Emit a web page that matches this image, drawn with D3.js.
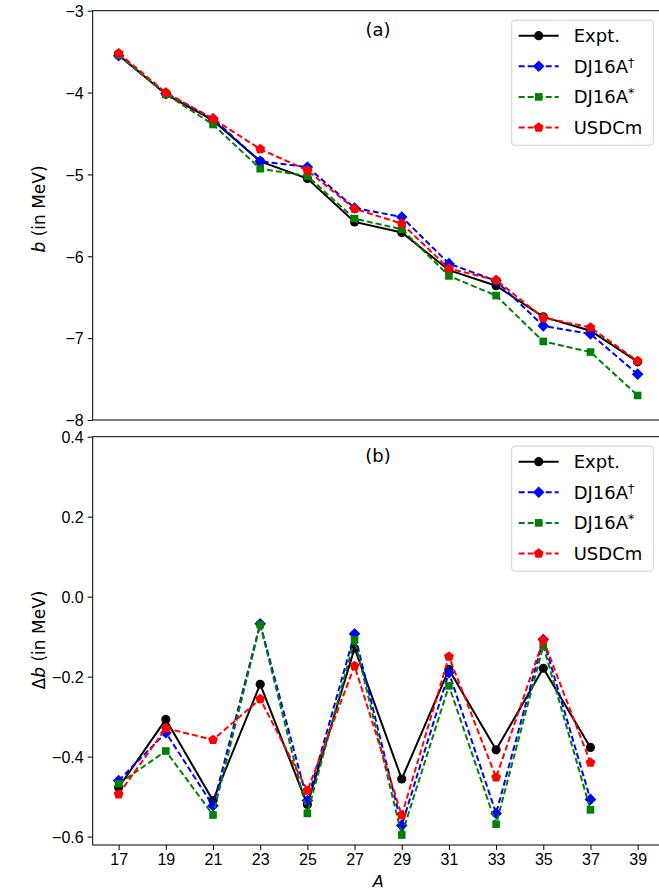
<!DOCTYPE html>
<html>
<head>
<meta charset="utf-8">
<script src="https://cdn.jsdelivr.net/npm/d3@7"></script>
<style>
  body { margin: 0; background: #fff; }
  svg { font-family: "DejaVu Sans", sans-serif; }
  .tick text { font-size: 16px; fill: #000; }
</style>
</head>
<body>
<svg id="chart"></svg>
<script>
const width = 659;
const height = 890;

// mass numbers
const massA = [17, 19, 21, 23, 25, 27, 29, 31, 33, 35, 37, 39];
const massB = [17, 19, 21, 23, 25, 27, 29, 31, 33, 35, 37];
const xTicks = [17, 19, 21, 23, 25, 27, 29, 31, 33, 35, 37, 39];

// panel (a): b in MeV
const bExpt   = [-3.54, -4.02, -4.34, -4.84, -5.05, -5.58, -5.71, -6.17, -6.36, -6.74, -6.91, -7.29];
const bDJ16Ad = [-3.55, -4.01, -4.32, -4.84, -4.91, -5.41, -5.52, -6.09, -6.30, -6.85, -6.95, -7.44];
const bDJ16As = [-3.54, -4.02, -4.39, -4.93, -5.02, -5.54, -5.67, -6.24, -6.48, -7.04, -7.17, -7.70];
const bUSDCm  = [-3.52, -4.00, -4.32, -4.69, -4.95, -5.42, -5.60, -6.15, -6.29, -6.75, -6.87, -7.28];

// panel (b): delta b in MeV
const dExpt   = [-0.477, -0.307, -0.510, -0.219, -0.520, -0.129, -0.456, -0.182, -0.383, -0.179, -0.377];
const dDJ16Ad = [-0.460, -0.340, -0.523, -0.068, -0.510, -0.093, -0.572, -0.190, -0.542, -0.107, -0.507];
const dDJ16As = [-0.468, -0.386, -0.546, -0.070, -0.542, -0.108, -0.596, -0.223, -0.569, -0.123, -0.533];
const dUSDCm  = [-0.494, -0.329, -0.358, -0.256, -0.485, -0.173, -0.547, -0.150, -0.452, -0.108, -0.415];

const seriesNames = ["Expt.", "DJ16A", "DJ16A", "USDCm"];
const seriesSup = ["", "\u2020", "*", ""];
const topTicks = [-3, -4, -5, -6, -7, -8];
const botTicks = [0.4, 0.2, 0.0, -0.2, -0.4, -0.6];

// marker paths (matplotlib-like o, D, s, p)
function polygon(n, r, rot) {
  const pts = d3.range(n).map(i => {
    const a = rot + i * 2 * Math.PI / n;
    return [r * Math.cos(a), r * Math.sin(a)];
  });
  return "M" + pts.join("L") + "Z";
}
const markers = {
  circle: d3.symbol(d3.symbolCircle, 66)(),
  diamond: polygon(4, 5.8, -Math.PI / 2),
  square: polygon(4, 5.4, Math.PI / 4),
  pentagon: polygon(5, 5.2, -Math.PI / 2)
};

const styles = [
  {color: "#000000", dash: null, marker: "circle"},
  {color: "#0000ff", dash: "6,3", marker: "diamond"},
  {color: "#008000", dash: "6,3", marker: "square"},
  {color: "#ff0000", dash: "6,3", marker: "pentagon"}
];

const svg = d3.select("#chart").attr("width", width).attr("height", height);

const left = 92.7, right = 663.6;
const x = d3.scaleLinear().domain([15.9, 40.1]).range([left, right]);

const panels = [
  {top: 10.7, bottom: 420, domain: [-8, -3], ticks: topTicks, fmt: d3.format("d"),
   data: [bExpt, bDJ16Ad, bDJ16As, bUSDCm], xs: massA, tag: "(a)", delta: false, xAxis: false, labelY: 209},
  {top: 436.7, bottom: 845, domain: [-0.621, 0.4], ticks: botTicks, fmt: d3.format(".1f"),
   data: [dExpt, dDJ16Ad, dDJ16As, dUSDCm], xs: massB, tag: "(b)", delta: true, xAxis: true, labelY: 640}
];

panels.forEach(p => {
  const y = d3.scaleLinear().domain(p.domain).range([p.bottom, p.top]);
  const g = svg.append("g");

  // frame
  g.append("rect")
      .attr("x", left).attr("y", p.top)
      .attr("width", right - left).attr("height", p.bottom - p.top)
      .attr("fill", "none").attr("stroke", "#000").attr("stroke-width", 1);

  const yAxis = g.append("g")
      .attr("transform", `translate(${left},0)`)
      .call(d3.axisLeft(y).tickValues(p.ticks).tickFormat(p.fmt).tickSize(5).tickPadding(4));
  yAxis.select(".domain").remove();
  yAxis.selectAll(".tick text").attr("dy", "0.36em");

  if (p.xAxis) {
    const xAxis = g.append("g")
        .attr("transform", `translate(0,${p.bottom})`)
        .call(d3.axisBottom(x).tickValues(xTicks).tickFormat(d3.format("d")).tickSize(5).tickPadding(4));
    xAxis.select(".domain").remove();
  }

  // series
  p.data.forEach((vals, i) => {
    const st = styles[i];
    const pts = p.xs.map((a, k) => [x(a), y(vals[k])]);
    g.append("path")
        .attr("d", d3.line()(pts))
        .attr("fill", "none")
        .attr("stroke", st.color)
        .attr("stroke-width", 2)
        .attr("stroke-dasharray", st.dash);
    g.selectAll(null).data(pts).enter().append("path")
        .attr("transform", d => `translate(${d[0]},${d[1]})`)
        .attr("d", markers[st.marker])
        .attr("fill", st.color);
  });

  // panel tag
  g.append("text")
      .attr("x", 378).attr("y", p.top + 25.5)
      .attr("text-anchor", "middle")
      .attr("font-size", 18)
      .text(p.tag);

  // y label
  const ly = g.append("text")
      .attr("transform", `translate(44.5,${p.labelY}) rotate(-90)`)
      .attr("text-anchor", "middle")
      .attr("font-size", 17);
  if (p.delta) ly.append("tspan").text("\u0394");
  ly.append("tspan").attr("font-style", "italic").text("b");
  ly.append("tspan").text(" (in MeV)");

  // legend
  const lg = g.append("g").attr("transform", `translate(511.7,${p.top + 9.5})`);
  lg.append("rect")
      .attr("width", 141.6).attr("height", 125)
      .attr("rx", 3)
      .attr("fill", "#fff").attr("fill-opacity", 0.8)
      .attr("stroke", "#d0d0d0").attr("stroke-width", 1);
  seriesNames.forEach((name, i) => {
    const st = styles[i];
    const ry = 15.5 + i * 30.6;
    lg.append("line")
        .attr("x1", 7).attr("x2", 47).attr("y1", ry).attr("y2", ry)
        .attr("stroke", st.color).attr("stroke-width", 2)
        .attr("stroke-dasharray", st.dash);
    lg.append("path")
        .attr("transform", `translate(27,${ry})`)
        .attr("d", markers[st.marker])
        .attr("fill", st.color);
    const t = lg.append("text")
        .attr("x", 62).attr("y", ry).attr("dy", "0.36em")
        .attr("font-size", 18)
        .text(name);
    if (seriesSup[i]) {
      t.append("tspan")
          .attr("dy", "-0.5em")
          .attr("font-size", 12.5)
          .text(seriesSup[i]);
    }
  });
});

// x label
svg.append("text")
    .attr("x", x(28)).attr("y", 887)
    .attr("text-anchor", "middle")
    .attr("font-size", 16)
    .attr("font-style", "italic")
    .text("A");
</script>
</body>
</html>
